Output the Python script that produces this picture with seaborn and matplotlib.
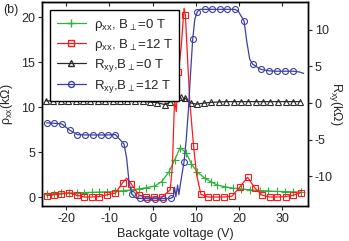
import matplotlib
matplotlib.use("Agg")
import matplotlib.pyplot as plt
from matplotlib.lines import Line2D
import seaborn as sns

# ---------------- data ----------------
# rho_xx, B=12 T (left axis, kOhm)
red_v = [-24.5, -22.8, -21.1, -19.3, -17.5, -15.8, -14.0, -12.3, -10.5, -8.6, -6.9, -6.0, -5.0, -3.1,
         -1.4, 0.4, 2.2, 4.1, 4.6, 5.1, 5.5, 6.0, 6.6, 7.3, 7.6, 8.6, 9.5, 10.2, 11.2, 12.9, 14.8,
         16.6, 18.4, 20.2, 22.0, 23.7, 25.4, 27.2, 28.9, 30.8, 32.6, 34.4]
red_rho = [0.15, 0.25, 0.35, 0.45, 0.2, 0.0, 0.0, 0.05, 0.25, 0.45, 1.6, 2.1, 1.5, 0.2,
           0.0, 0.0, 0.0, 0.8, 3.5, 10.8, 9.5, 13.9, 16.5, 21.0, 20.3, 10.8, 5.7, 2.5, 0.3, 0.0, 0.0,
           0.0, 0.1, 1.1, 2.2, 1.0, 0.2, 0.0, 0.0, 0.05, 0.2, 0.5]
red_mark = [1, 1, 1, 1, 1, 1, 1, 1, 1, 1, 1, 0, 1, 1,
            1, 1, 1, 1, 0, 0, 0, 1, 0, 0, 1, 0, 1, 0, 1, 1, 1,
            1, 1, 1, 1, 1, 1, 1, 1, 1, 1, 1]

# rho_xx, B=0 T (left axis, kOhm)
green_v = [-24.5, -22.8, -21.1, -19.3, -17.5, -15.8, -14.0, -12.3, -10.5, -8.6, -6.8, -5.0, -3.1,
           -1.4, 0.4, 2.1, 3.8, 5.1, 6.4, 7.8, 9.0, 10.3, 12.1, 13.5, 14.9, 16.7, 18.7, 20.6,
           22.6, 24.8, 26.8, 28.8, 30.7, 32.6, 34.4]
green_rho = [0.33, 0.38, 0.42, 0.45, 0.48, 0.5, 0.52, 0.55, 0.58, 0.62, 0.7, 0.78, 0.9,
             1.05, 1.2, 1.7, 2.8, 4.1, 5.5, 4.9, 3.7, 2.8, 2.1, 1.7, 1.35, 1.15, 0.98, 0.9,
             0.8, 0.72, 0.67, 0.62, 0.6, 0.58, 0.55]

# R_xy, B=0 T (right axis, kOhm)
black_v = [-24.7, -23.0, -21.3, -19.5, -17.8, -16.1, -14.4, -12.7, -10.9, -9.2, -7.5, -5.8, -4.1,
           -2.3, -0.6, 1.1, 2.8, 4.0, 4.6, 5.0, 5.5, 6.0, 6.5, 7.0, 7.6, 8.2, 9.0, 10.2, 11.9,
           13.6, 15.3, 17.0, 18.8, 20.5, 22.2, 23.9, 25.6, 27.3, 29.1, 30.8, 32.5, 34.2]
black_r = [0.3, 0.3, 0.3, 0.3, 0.3, 0.3, 0.3, 0.3, 0.3, 0.3, 0.3, 0.3, 0.3,
           0.25, 0.15, 0.05, -0.2, 0.1, 0.9, 0.2, 1.0, 0.3, 0.8, 0.2, 0.7, 0.2, 0.0, -0.15, 0.0,
           0.1, 0.15, 0.2, 0.2, 0.2, 0.2, 0.2, 0.2, 0.2, 0.2, 0.2, 0.2, 0.2]
black_mark = [1, 1, 1, 1, 1, 1, 1, 1, 1, 1, 1, 1, 1,
              1, 1, 1, 1, 1, 0, 0, 1, 0, 1, 0, 1, 0, 1, 1, 1,
              1, 1, 1, 1, 1, 1, 1, 1, 1, 1, 1, 1, 1]

# R_xy, B=12 T (right axis, kOhm)
blue_v = [-24.5, -22.8, -21.0, -19.2, -17.4, -15.6, -13.8, -12.0, -10.2, -8.6, -6.6, -6.0, -5.4,
          -4.8, -4.0, -3.0, -1.2, 0.6, 2.4, 4.2, 4.8, 5.1, 5.4, 5.8, 6.1, 6.6, 7.3, 7.8, 8.3,
          8.8, 9.3, 9.8, 10.4, 11.0, 12.1, 13.8, 15.6, 17.3, 19.0, 19.8, 20.4, 21.2, 21.8, 22.5,
          23.2, 25.1, 27.0, 28.8, 30.7, 32.6, 34.0, 35.0]
blue_r = [-2.7, -2.75, -2.85, -3.7, -4.3, -4.35, -4.35, -4.35, -4.35, -4.3, -5.6, -7.5, -11.0,
          -12.4, -12.9, -13.0, -13.05, -13.05, -13.05, -13.0, -12.8, -11.5, -12.8, -11.2, -12.5, -10.5, -8.0, -5.0, -1.0,
          4.0, 8.7, 11.5, 12.5, 12.8, 12.8, 12.8, 12.8, 12.8, 12.8, 12.6, 12.0, 11.2, 8.5, 6.0,
          5.3, 4.6, 4.4, 4.35, 4.35, 4.35, 4.25, 4.05]
blue_mark = [1, 1, 1, 1, 1, 1, 1, 1, 1, 1, 1, 0, 0,
             1, 0, 1, 1, 1, 1, 1, 0, 0, 0, 0, 0, 0, 1, 0, 0,
             0, 1, 0, 1, 0, 1, 1, 1, 1, 1, 0, 0, 1, 0, 0,
             1, 1, 1, 1, 1, 1, 0, 0]

labels = [r"ρ$_{\mathrm{xx}}$, B$_{\perp}$=0 T", r"ρ$_{\mathrm{xx}}$, B$_{\perp}$=12 T",
          r"R$_{\mathrm{xy}}$,B$_{\perp}$=0 T", r"R$_{\mathrm{xy}}$,B$_{\perp}$=12 T"]

# ---------------- style ----------------
sns.set_style("ticks")
plt.rcParams["font.family"] = ["Liberation Sans", "DejaVu Sans"]
plt.rcParams["mathtext.fontset"] = "custom"
plt.rcParams["mathtext.rm"] = "Liberation Sans"
plt.rcParams["mathtext.it"] = "Liberation Sans:italic"
plt.rcParams["axes.unicode_minus"] = False

c_green = "#2fb13a"
c_red = "#ff1a1a"
c_black = "#2a2a2a"
c_blue = "#3b3fa6"
FS = 9

fig = plt.figure(figsize=(3.49, 2.41), dpi=100)
ax = fig.add_axes([0.1203, 0.1452, 0.7622, 0.8465])
ax2 = ax.twinx()

def idx(flags):
    return [i for i, f in enumerate(flags) if f]

common = dict(estimator=None, sort=False, linewidth=0.9, markersize=4.3,
              markerfacecolor="none", markeredgewidth=0.8)

sns.lineplot(x=green_v, y=green_rho, ax=ax, color=c_green, marker="+",
             markeredgecolor=c_green, **{**common, "markersize": 5.5})
sns.lineplot(x=red_v, y=red_rho, ax=ax, color=c_red, marker="s",
             markeredgecolor=c_red, markevery=idx(red_mark), **common)
sns.lineplot(x=black_v, y=black_r, ax=ax2, color=c_black, marker="^",
             markeredgecolor=c_black, markevery=idx(black_mark), **common)
sns.lineplot(x=blue_v, y=blue_r, ax=ax2, color=c_blue, marker="o",
             markeredgecolor=c_blue, markevery=idx(blue_mark), **common)

ax.set_xlim(-25.6, 36)
ax.set_ylim(-1.0, 21.7)
ax2.set_ylim(-14.05, 13.8)
ax.set_xticks([-20, -10, 0, 10, 20, 30])
ax.set_yticks([0, 5, 10, 15, 20])
ax2.set_yticks([-10, -5, 0, 5, 10])

for a in (ax, ax2):
    for s in a.spines.values():
        s.set_visible(True)
        s.set_linewidth(1.0)
        s.set_color("black")
ax.tick_params(axis="x", direction="out", length=3, width=0.8, labelsize=FS, top=False, pad=2)
ax.tick_params(axis="y", direction="out", length=3, width=0.8, labelsize=FS, pad=2)
ax2.tick_params(axis="y", direction="out", length=3, width=0.8, labelsize=FS, pad=2)
# inward ticks on top edge
sec = ax.secondary_xaxis("top")
sec.set_xticks([-20, -10, 0, 10, 20, 30])
sec.tick_params(direction="in", length=3, width=0.8, labeltop=False)

ax.set_xlabel("Backgate voltage (V)", fontsize=FS, labelpad=2)
ax.set_ylabel(r"ρ$_{\mathrm{xx}}$(kΩ)", fontsize=FS, labelpad=4)
ax2.set_ylabel(r"R$_{\mathrm{xy}}$(kΩ)", fontsize=FS, rotation=270, labelpad=8)

if ax.get_legend():
    ax.get_legend().remove()
if ax2.get_legend():
    ax2.get_legend().remove()

handles = [
    Line2D([], [], color=c_green, marker="+", markersize=5.5, markeredgecolor=c_green, lw=0.9),
    Line2D([], [], color=c_red, marker="s", markersize=4.3, mfc="none", markeredgecolor=c_red, lw=0.9),
    Line2D([], [], color=c_black, marker="^", markersize=4.3, mfc="none", markeredgecolor=c_black, lw=0.9),
    Line2D([], [], color=c_blue, marker="o", markersize=4.3, mfc="none", markeredgecolor=c_blue, lw=0.9),
]
leg = ax2.legend(handles, labels, loc="upper left", bbox_to_anchor=(0.03, 0.96),
                 fontsize=9.5, frameon=True, fancybox=False, edgecolor="black",
                 framealpha=1, borderaxespad=0, handlelength=2.2, handletextpad=0.6,
                 borderpad=0.5, labelspacing=0.3)
leg.get_frame().set_linewidth(1.0)

fig.text(0.008, 0.985, "(b)", fontsize=FS, ha="left", va="top")

fig.savefig("out.png", dpi=100)
